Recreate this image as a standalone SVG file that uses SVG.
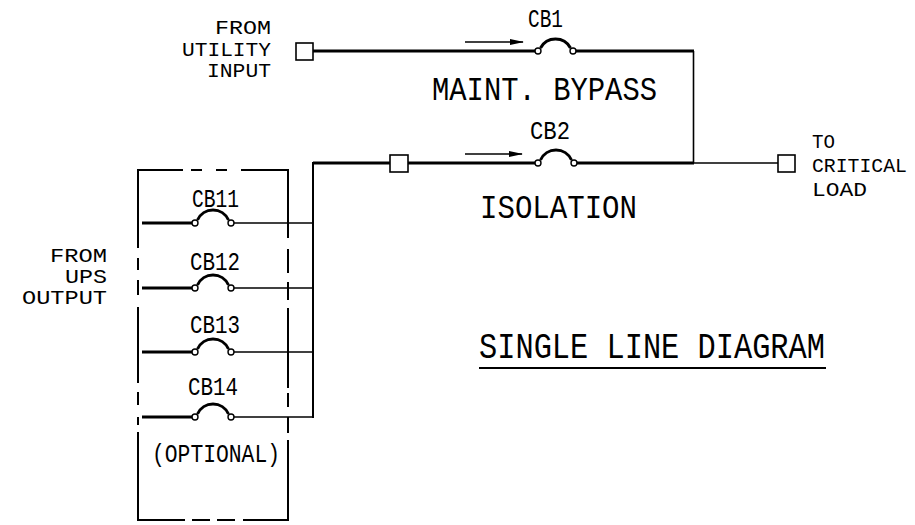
<svg xmlns="http://www.w3.org/2000/svg" width="915" height="525" viewBox="0 0 915 525">
<defs>
<marker id="ah" markerWidth="14" markerHeight="8" refX="13" refY="4" orient="auto" markerUnits="userSpaceOnUse">
<path d="M0,1 L14,4 L0,7 Z" fill="#000"/>
</marker>
</defs>
<style>
.t{font-family:"Liberation Mono","DejaVu Sans Mono",monospace;fill:#000}
.thick{stroke:#000;stroke-width:3;fill:none}
.thin{stroke:#000;stroke-width:1.6;fill:none}
.box{stroke:#000;stroke-width:1.6;fill:#fff}
.arc{stroke:#000;stroke-width:3;fill:none}
.dot{stroke:#000;stroke-width:1.4;fill:#fff}
.dash{stroke:#000;stroke-width:2;fill:none}
</style>
<rect width="915" height="525" fill="#fff"/>

<g id="connectors">
<line class="thick" x1="313" y1="51" x2="538" y2="51"/>
<line class="thick" x1="573" y1="51" x2="694" y2="51"/>
<line class="thin" x1="693.5" y1="51" x2="693.5" y2="163"/>
<line class="thick" x1="313" y1="163" x2="390" y2="163"/>
<line class="thick" x1="408" y1="163" x2="538" y2="163"/>
<line class="thick" x1="574" y1="163" x2="694" y2="163"/>
<line class="thin" x1="694" y1="163" x2="778" y2="163"/>
<line class="dash" x1="313" y1="162" x2="313" y2="418"/>
<line class="thick" x1="142" y1="223" x2="195" y2="223"/>
<line class="thin" x1="231" y1="223" x2="313" y2="223"/>
<line class="thick" x1="142" y1="288" x2="195" y2="288"/>
<line class="thin" x1="231" y1="288" x2="313" y2="288"/>
<line class="thick" x1="142" y1="352" x2="195" y2="352"/>
<line class="thin" x1="231" y1="352" x2="313" y2="352"/>
<line class="thick" x1="142" y1="417" x2="195" y2="417"/>
<line class="thin" x1="231" y1="417" x2="313" y2="417"/>
<line class="thin" x1="465" y1="42" x2="523" y2="42" marker-end="url(#ah)"/>
<line class="thin" x1="465" y1="154" x2="522" y2="154" marker-end="url(#ah)"/>
</g>

<g id="utility-input">
<rect class="box" x="296" y="43" width="17" height="17"/>
<text class="t" font-size="21" x="215" y="34" textLength="56" lengthAdjust="spacingAndGlyphs">FROM</text>
<text class="t" font-size="21" x="182" y="56" textLength="89" lengthAdjust="spacingAndGlyphs">UTILITY</text>
<text class="t" font-size="21" x="207" y="77" textLength="64" lengthAdjust="spacingAndGlyphs">INPUT</text>
</g>

<g id="cb1">
<path class="arc" d="M540.5,48 A17 17 0 0 1 570.5,48"/>
<circle class="dot" cx="538" cy="51" r="3"/>
<circle class="dot" cx="573" cy="51" r="3"/>
<text class="t" font-size="25" x="528" y="27" textLength="35" lengthAdjust="spacingAndGlyphs">CB1</text>
</g>
<text class="t" font-size="33" x="432" y="100" textLength="225" lengthAdjust="spacingAndGlyphs">MAINT. BYPASS</text>

<g id="iso-box">
<rect class="box" x="390" y="155" width="18" height="17"/>
</g>

<g id="cb2">
<path class="arc" d="M540.5,160 A17 17 0 0 1 571.5,160"/>
<circle class="dot" cx="538" cy="163" r="3"/>
<circle class="dot" cx="574" cy="163" r="3"/>
<text class="t" font-size="25" x="530" y="139" textLength="40" lengthAdjust="spacingAndGlyphs">CB2</text>
</g>
<text class="t" font-size="33" x="480" y="218" textLength="157" lengthAdjust="spacingAndGlyphs">ISOLATION</text>

<g id="critical-load">
<rect class="box" x="778" y="155" width="17" height="17"/>
<text class="t" font-size="21" x="812" y="148" textLength="23" lengthAdjust="spacingAndGlyphs">TO</text>
<text class="t" font-size="21" x="812" y="172" textLength="95" lengthAdjust="spacingAndGlyphs">CRITICAL</text>
<text class="t" font-size="21" x="812" y="196" textLength="55" lengthAdjust="spacingAndGlyphs">LOAD</text>
</g>

<g id="ups-output">
<text class="t" font-size="21" x="50" y="262" textLength="57" lengthAdjust="spacingAndGlyphs">FROM</text>
<text class="t" font-size="21" x="65" y="283" textLength="42" lengthAdjust="spacingAndGlyphs">UPS</text>
<text class="t" font-size="21" x="22" y="304" textLength="85" lengthAdjust="spacingAndGlyphs">OUTPUT</text>
</g>

<g id="optional-box">
<line class="dash" x1="137" y1="170" x2="289" y2="170" stroke-dasharray="46 8 11 14 11 14 48"/>
<line class="dash" x1="137" y1="520" x2="289" y2="520" stroke-dasharray="48 7 18 7 18 8 46"/>
<line class="dash" x1="138" y1="169" x2="138" y2="521" stroke-dasharray="79 10 12 10 15 12 76 9 13 12 8 7 89"/>
<line class="dash" x1="288" y1="169" x2="288" y2="521" stroke-dasharray="69 11 24 9 18 8 80 5 14 10 16 7 81"/>
<text class="t" font-size="25" x="152" y="462" textLength="128" lengthAdjust="spacingAndGlyphs">(OPTIONAL)</text>
</g>

<g id="cb11">
<path class="arc" d="M197.5,220 A17 17 0 0 1 228.5,220"/>
<circle class="dot" cx="195" cy="223" r="3"/>
<circle class="dot" cx="231" cy="223" r="3"/>
<text class="t" font-size="25" x="192" y="207" textLength="47" lengthAdjust="spacingAndGlyphs">CB11</text>
</g>
<g id="cb12">
<path class="arc" d="M197.5,285 A17 17 0 0 1 228.5,285"/>
<circle class="dot" cx="195" cy="288" r="3"/>
<circle class="dot" cx="231" cy="288" r="3"/>
<text class="t" font-size="25" x="190" y="270" textLength="50" lengthAdjust="spacingAndGlyphs">CB12</text>
</g>
<g id="cb13">
<path class="arc" d="M197.5,349 A17 17 0 0 1 228.5,349"/>
<circle class="dot" cx="195" cy="352" r="3"/>
<circle class="dot" cx="231" cy="352" r="3"/>
<text class="t" font-size="25" x="190" y="333" textLength="50" lengthAdjust="spacingAndGlyphs">CB13</text>
</g>
<g id="cb14">
<path class="arc" d="M197.5,414 A17 17 0 0 1 228.5,414"/>
<circle class="dot" cx="195" cy="417" r="3"/>
<circle class="dot" cx="231" cy="417" r="3"/>
<text class="t" font-size="25" x="188" y="395" textLength="50" lengthAdjust="spacingAndGlyphs">CB14</text>
</g>

<g id="title">
<text class="t" font-size="36" x="479" y="358" textLength="346" lengthAdjust="spacingAndGlyphs">SINGLE LINE DIAGRAM</text>
<line stroke="#000" stroke-width="2" x1="479" y1="368" x2="826" y2="368"/>
</g>
</svg>
